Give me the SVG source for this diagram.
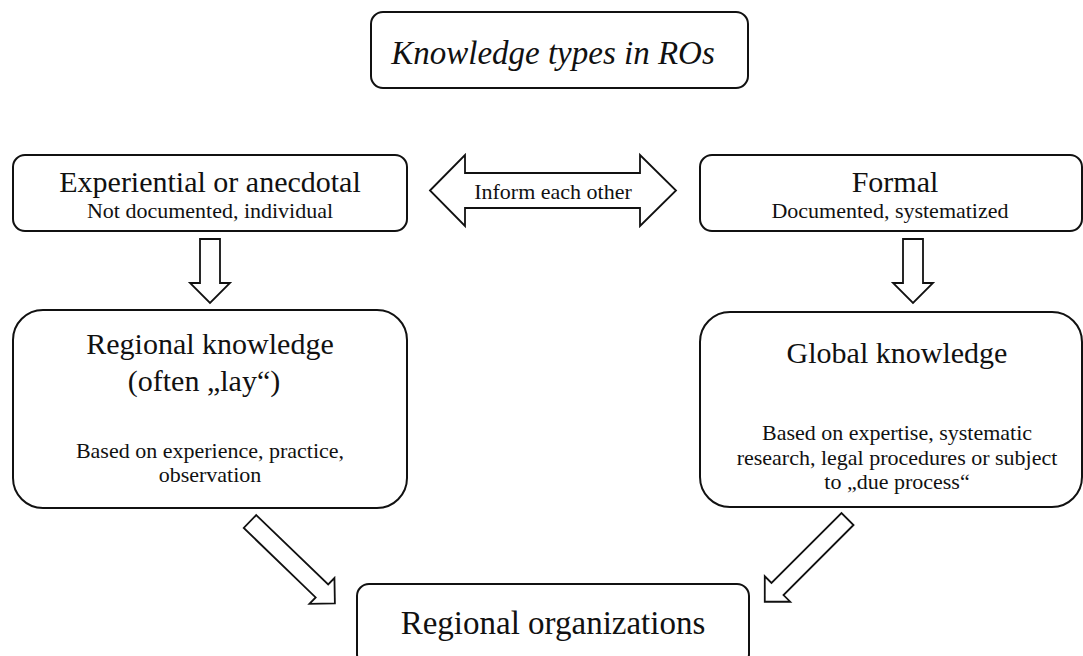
<svg xmlns="http://www.w3.org/2000/svg" width="1083" height="656" viewBox="0 0 1083 656" font-family="Liberation Serif">
<style>
.t{fill:#111;text-anchor:middle}
.box{fill:#fff;stroke:#111;stroke-width:2}
.arr{fill:#fff;stroke:#111;stroke-width:1.8;stroke-linejoin:miter}
</style>
<rect width="1083" height="656" fill="#fff"/>
<g id="title">
<rect class="box" x="371" y="12" width="377" height="76" rx="12"/>
<text class="t" x="553" y="64" font-family="Liberation Serif" font-size="33" font-style="italic">Knowledge types in ROs</text>
</g>
<g id="experiential">
<rect class="box" x="13" y="155" width="394" height="76" rx="12"/>
<text class="t" x="210" y="192" font-family="Liberation Serif" font-size="30">Experiential or anecdotal</text>
<text class="t" x="210" y="218" font-family="Liberation Serif" font-size="22">Not documented, individual</text>
</g>
<g id="formal">
<rect class="box" x="700" y="155" width="382" height="76" rx="12"/>
<text class="t" x="895" y="192" font-family="Liberation Serif" font-size="30">Formal</text>
<text class="t" x="890" y="218" font-family="Liberation Serif" font-size="22">Documented, systematized</text>
</g>
<g id="regional-knowledge">
<rect class="box" x="13" y="310" width="394" height="198" rx="30"/>
<text class="t" x="210" y="354" font-family="Liberation Serif" font-size="30">Regional knowledge</text>
<text class="t" x="204" y="391" font-family="Liberation Serif" font-size="30">(often &#8222;lay&#8220;)</text>
<text class="t" x="210" y="458" font-family="Liberation Serif" font-size="22">Based on experience, practice,</text>
<text class="t" x="210" y="482" font-family="Liberation Serif" font-size="22">observation</text>
</g>
<g id="global-knowledge">
<rect class="box" x="700" y="312" width="382" height="195" rx="30"/>
<text class="t" x="897" y="363" font-family="Liberation Serif" font-size="30">Global knowledge</text>
<text class="t" x="897" y="440" font-family="Liberation Serif" font-size="22">Based on expertise, systematic</text>
<text class="t" x="897" y="465" font-family="Liberation Serif" font-size="22">research, legal procedures or subject</text>
<text class="t" x="897" y="489" font-family="Liberation Serif" font-size="22">to &#8222;due process&#8220;</text>
</g>
<g id="regional-organizations">
<rect class="box" x="357" y="584" width="392" height="82" rx="12"/>
<text class="t" x="553" y="634" font-family="Liberation Serif" font-size="33">Regional organizations</text>
</g>
<g id="connectors">
<polygon class="arr" points="430,190.5 465,155 465,173 640,173 640,155 676,190.5 640,226 640,208 465,208 465,226"/>
<text class="t" x="553" y="199" font-family="Liberation Serif" font-size="22">Inform each other</text>
<polygon class="arr" points="200,239 220,239 220,283 230,283 210,303 190,283 200,283"/>
<polygon class="arr" points="903,239 923,239 923,283 933,283 913,303 893,283 903,283"/>
<polygon class="arr" transform="translate(250,521.5) rotate(44)" points="0,-9 100,-9 100,-18 118,0 100,18 100,9 0,9"/>
<polygon class="arr" transform="translate(847.5,519) rotate(135)" points="0,-8.5 99,-8.5 99,-18 117,0 99,18 99,8.5 0,8.5"/>
</g>
</svg>
